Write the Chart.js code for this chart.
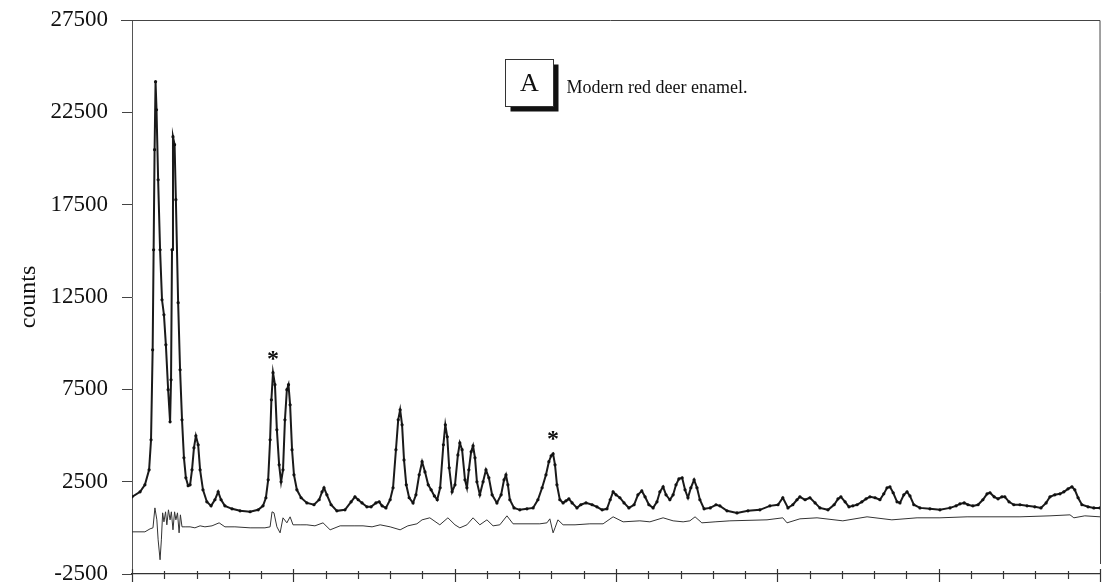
<!DOCTYPE html>
<html>
<head>
<meta charset="utf-8">
<script src="https://cdn.jsdelivr.net/npm/chart.js@4"></script>
<style>
  html, body { margin: 0; padding: 0; background: #fff; }
  #wrap { width: 1107px; height: 584px; }
</style>
</head>
<body>
<div id="wrap"><canvas id="myChart" width="1107" height="584"></canvas></div>
<script>
// observed pattern: [2theta, counts]
const observed = [
  [20.00,1680],[20.25,1950],[20.40,2330],[20.53,3140],[20.59,4770],[20.64,9640],[20.67,15060],
  [20.70,20480],[20.73,24160],[20.76,22640],[20.81,18850],[20.87,15060],[20.93,12350],[20.99,11540],
  [21.05,9910],[21.12,7480],[21.18,5740],[21.21,8020],[21.24,15060],[21.27,21180],[21.32,20750],
  [21.36,17770],[21.43,12190],[21.49,8560],[21.55,5850],[21.61,3790],[21.67,2710],[21.74,2280],
  [21.80,2330],[21.86,3140],[21.92,4330],[21.98,4980],[22.05,4500],[22.11,3140],[22.20,2060],
  [22.32,1410],[22.45,1190],[22.57,1520],[22.67,1950],[22.76,1520],[22.88,1190],[23.10,1030],
  [23.35,920],[23.66,870],[23.91,975],[24.06,1190],[24.15,1630],[24.22,2600],[24.28,4770],
  [24.32,6930],[24.37,8400],[24.43,7750],[24.49,5310],[24.56,3410],[24.62,2490],[24.68,3140],
  [24.74,5850],[24.80,7480],[24.85,7750],[24.90,6660],[24.96,4230],[25.02,2870],[25.11,2060],
  [25.24,1630],[25.42,1350],[25.64,1250],[25.80,1520],[25.89,1950],[25.95,2170],[26.04,1790],
  [26.17,1250],[26.35,920],[26.60,975],[26.79,1410],[26.91,1680],[27.01,1520],[27.13,1350],
  [27.28,1140],[27.41,1140],[27.56,1350],[27.66,1410],[27.75,1190],[27.87,1080],[28.00,1520],
  [28.09,2170],[28.18,4230],[28.25,5850],[28.31,6390],[28.37,5580],[28.43,3680],[28.50,2330],
  [28.59,1630],[28.71,1350],[28.80,1790],[28.90,2870],[28.99,3580],[29.08,3030],[29.18,2330],
  [29.27,2060],[29.37,1730],[29.46,1520],[29.55,2170],[29.65,4500],[29.71,5580],[29.77,4930],
  [29.83,3250],[29.92,1950],[30.01,2330],[30.10,3950],[30.16,4600],[30.23,4230],[30.32,2600],
  [30.38,2170],[30.44,3140],[30.51,4120],[30.57,4440],[30.63,3790],[30.69,2490],[30.78,1790],
  [30.88,2490],[30.97,3140],[31.06,2710],[31.16,1790],[31.31,1350],[31.44,1790],[31.53,2600],
  [31.59,2870],[31.65,2330],[31.71,1520],[31.84,1080],[32.02,975],[32.24,1030],[32.43,1080],
  [32.58,1520],[32.71,2170],[32.83,2870],[32.92,3580],[32.99,3900],[33.05,4010],[33.11,3410],
  [33.17,2330],[33.26,1520],[33.36,1350],[33.45,1460],[33.54,1570],[33.64,1350],[33.79,1080],
  [33.91,1250],[34.07,1350],[34.26,1250],[34.41,1140],[34.57,975],[34.72,1030],[34.82,1520],
  [34.91,1950],[35.00,1790],[35.12,1630],[35.25,1350],[35.40,1080],[35.56,1250],[35.68,1790],
  [35.80,2000],[35.90,1680],[36.02,1250],[36.15,1080],[36.27,1410],[36.36,1950],[36.46,2220],
  [36.55,1790],[36.67,1520],[36.77,1790],[36.86,2330],[36.95,2650],[37.05,2710],[37.14,2060],
  [37.23,1630],[37.32,2170],[37.42,2600],[37.51,2170],[37.60,1520],[37.73,1030],[37.92,1080],
  [38.10,1250],[38.22,1190],[38.44,920],[38.75,810],[39.09,920],[39.46,975],[39.77,1190],
  [40.02,1250],[40.17,1630],[40.33,1080],[40.48,1250],[40.61,1520],[40.70,1680],[40.86,1520],
  [41.01,1630],[41.17,1350],[41.32,1080],[41.57,975],[41.76,1250],[41.88,1570],[41.97,1680],
  [42.10,1410],[42.22,1140],[42.34,1190],[42.47,1250],[42.62,1410],[42.75,1570],[42.87,1680],
  [43.03,1630],[43.18,1520],[43.30,1840],[43.40,2170],[43.49,2220],[43.59,1900],[43.71,1410],
  [43.80,1350],[43.92,1790],[44.02,1950],[44.11,1730],[44.23,1250],[44.42,1080],[44.73,1030],
  [45.04,975],[45.35,1080],[45.54,1190],[45.66,1300],[45.79,1350],[45.91,1250],[46.06,1190],
  [46.22,1250],[46.37,1520],[46.50,1840],[46.59,1900],[46.72,1680],[46.84,1570],[46.96,1680],
  [47.05,1680],[47.18,1410],[47.33,1250],[47.52,1250],[47.74,1190],[47.98,1140],[48.17,1080],
  [48.33,1350],[48.45,1680],[48.60,1790],[48.76,1840],[48.88,1950],[49.01,2110],[49.13,2220],
  [49.22,2060],[49.32,1630],[49.44,1250],[49.63,1140],[49.81,1080],[50.00,1080]
];

// difference curve (obs - calc, plotted with its offset)
const difference = [
  [20.00,-217],[20.40,-217],[20.56,-54],[20.65,0],[20.71,1080],[20.77,433],[20.81,-650],
  [20.87,-1730],[20.91,-650],[20.95,812],[20.99,325],[21.04,867],[21.08,163],[21.13,975],
  [21.18,433],[21.22,867],[21.27,-108],[21.32,867],[21.36,433],[21.41,812],[21.46,-271],
  [21.50,704],[21.55,54],[21.67,54],[21.80,54],[21.95,0],[22.11,108],[22.26,54],[22.48,108],
  [22.70,271],[22.88,54],[23.19,54],[23.66,0],[24.12,0],[24.28,54],[24.34,867],[24.40,812],
  [24.49,54],[24.59,-271],[24.68,542],[24.80,271],[24.90,596],[24.99,163],[25.21,163],
  [25.42,163],[25.67,108],[25.92,271],[26.14,-108],[26.45,108],[26.91,108],[27.16,108],
  [27.44,54],[27.69,163],[28.00,54],[28.31,-108],[28.55,108],[28.83,217],[28.99,433],
  [29.23,542],[29.54,163],[29.79,542],[30.01,163],[30.16,0],[30.38,163],[30.57,542],
  [30.78,163],[31.00,433],[31.19,108],[31.40,163],[31.62,650],[31.81,217],[32.18,217],
  [32.64,217],[32.86,271],[32.95,487],[33.05,-271],[33.11,0],[33.20,433],[33.36,163],
  [33.73,163],[34.19,217],[34.60,217],[34.91,596],[35.22,325],[35.74,379],[36.05,325],
  [36.46,542],[36.77,379],[37.08,325],[37.29,379],[37.45,596],[37.66,271],[38.07,325],
  [38.53,379],[39.68,433],[40.17,542],[40.30,271],[40.70,487],[41.23,542],[42.03,379],
  [42.78,596],[43.55,433],[44.33,542],[45.04,542],[45.88,596],[46.59,596],[47.52,596],
  [48.45,650],[49.07,704],[49.19,542],[49.53,650],[50.00,596]
];

const yTicks = [-2500, 2500, 7500, 12500, 17500, 22500, 27500];
const xRange = [20, 50];
const starred = [[24.37, 9480], [33.05, 5150]];
const panelLetter = 'A';
const panelText = 'Modern red deer enamel.';
const panelAnchor = [31.56, 25400];

const serif = '"Liberation Serif", "DejaVu Serif", serif';

const toXY = arr => arr.map(p => ({x: p[0], y: p[1]}));

// ticks crossing the x axis, long every fifth one
const xTickPlugin = {
  id: 'xTicks',
  afterDraw(chart) {
    const c = chart.ctx, xs = chart.scales.x, bottom = chart.chartArea.bottom;
    c.save();
    c.strokeStyle = '#333';
    c.lineWidth = 1.2;
    for (let v = xRange[0]; v <= xRange[1]; v++) {
      const px = Math.round(xs.getPixelForValue(v)) + 0.5;
      const major = (v - xRange[0]) % 5 === 0;
      c.beginPath();
      c.moveTo(px, bottom - (major ? 5 : 3));
      c.lineTo(px, bottom + (major ? 8 : 5));
      c.stroke();
    }
    // top and right frame lines
    const a = chart.chartArea;
    c.strokeStyle = '#444';
    c.lineWidth = 1;
    c.beginPath();
    c.moveTo(a.left - 11, a.top + 0.5);
    c.lineTo(a.right, a.top + 0.5);
    c.lineTo(a.right + 0.5, a.bottom - 10);
    c.stroke();
    c.restore();
  }
};

const labelPlugin = {
  id: 'labels',
  afterDraw(chart) {
    const c = chart.ctx, xs = chart.scales.x, ys = chart.scales.y;
    c.save();
    c.fillStyle = '#111';
    c.font = 'bold 24px ' + serif;
    c.textAlign = 'center';
    c.textBaseline = 'alphabetic';
    starred.forEach(s => {
      c.fillText('*', xs.getPixelForValue(s[0]), ys.getPixelForValue(s[1]) + 13);
    });

    const bx = Math.round(xs.getPixelForValue(panelAnchor[0])) + 0.5;
    const by = Math.round(ys.getPixelForValue(panelAnchor[1])) + 0.5;
    const bw = 48, bh = 47;
    c.fillStyle = '#111';
    c.fillRect(bx + 5, by + 5, bw, bh);
    c.fillStyle = '#fff';
    c.fillRect(bx, by, bw, bh);
    c.strokeStyle = '#333';
    c.lineWidth = 1;
    c.strokeRect(bx, by, bw, bh);
    c.fillStyle = '#111';
    c.textBaseline = 'middle';
    c.font = '26px ' + serif;
    c.fillText(panelLetter, bx + bw / 2, by + bh / 2 + 1);
    c.textAlign = 'left';
    c.textBaseline = 'alphabetic';
    c.font = '18px ' + serif;
    c.fillText(panelText, bx + 61, by + 33);
    c.restore();
  }
};

const ctx = document.getElementById('myChart').getContext('2d');
const myChart = new Chart(ctx, {
  type: 'line',
  data: {
    datasets: [{
      label: 'observed',
      data: toXY(observed),
      borderColor: '#1a1a1a',
      borderWidth: 2,
      pointRadius: 1.6,
      pointBackgroundColor: '#111',
      pointBorderWidth: 0,
      tension: 0
    }, {
      label: 'difference',
      data: toXY(difference),
      borderColor: '#333',
      borderWidth: 1,
      pointRadius: 0,
      tension: 0
    }]
  },
  options: {
    responsive: false,
    animation: false,
    layout: { padding: { left: 0, right: 7, top: 20, bottom: 10 } },
    plugins: { legend: { display: false }, tooltip: { enabled: false } },
    scales: {
      x: {
        type: 'linear',
        min: xRange[0],
        max: xRange[1],
        afterFit: axis => { axis.height = 0; axis.paddingLeft = 0; axis.paddingRight = 0; },
        ticks: { display: false },
        grid: { display: false },
        border: { display: true, color: '#333', width: 1.2 }
      },
      y: {
        min: yTicks[0],
        max: yTicks[yTicks.length - 1],
        afterBuildTicks: axis => { axis.ticks = yTicks.map(v => ({value: v})); },
        afterFit: axis => { axis.width = 132; axis.paddingTop = 0; axis.paddingBottom = 0; },
        ticks: {
          color: '#111',
          padding: 14,
          font: { family: serif, size: 23 },
          callback: v => String(v)
        },
        grid: { drawOnChartArea: false, drawTicks: true, tickLength: 10, color: '#444' },
        border: { display: true, color: '#555', width: 1 },
        title: {
          display: true,
          text: 'counts',
          color: '#111',
          font: { family: serif, size: 24 },
          padding: { top: 14, bottom: 0 }
        }
      }
    }
  },
  plugins: [xTickPlugin, labelPlugin]
});
</script>
</body>
</html>
